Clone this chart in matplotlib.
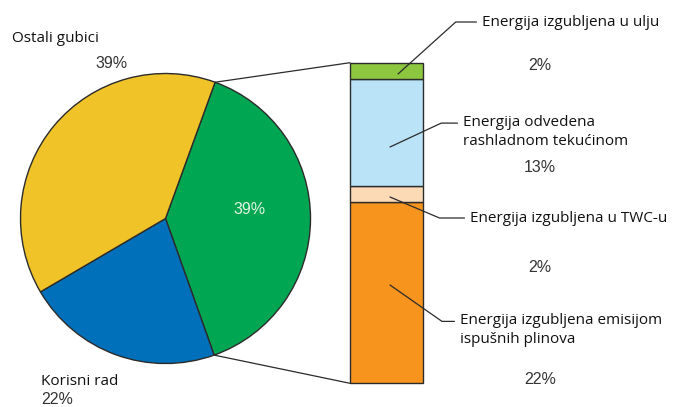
import numpy as np
import matplotlib.pyplot as plt
from matplotlib.patches import ConnectionPatch

# pie: share of fuel energy
pie_labels = ['Gubici hlađenja i ostalo', 'Korisni rad', 'Ostali gubici']
pie_values = [39, 22, 39]
pie_colors = ['#00a651', '#0070ba', '#f0c428']

# stacked bar: breakdown of the green slice (bottom to top)
bar_labels = ['Energija izgubljena emisijom\nispušnih plinova',
              'Energija izgubljena u TWC-u',
              'Energija odvedena\nrashladnom tekućinom',
              'Energija izgubljena u ulju']
bar_values = [22, 2, 13, 2]
bar_pct = ['22%', '2%', '13%', '2%']
bar_colors = ['#f7941d', '#fcdab6', '#bae3f8', '#8dc63f']

W, H = 679, 407
LABEL_FONT = 'Open Sans'
PCT_FONT = 'Liberation Sans'
LFS = 11
PFS = 11.5
EDGE = '#2b2b2b'

fig = plt.figure(figsize=(W / 100, H / 100), dpi=100)


def px(x, y, w, h):
    # axes rect from pixel box (top-left origin)
    return [x / W, (H - y - h) / H, w / W, h / H]


# ---- pie ----
ax_pie = fig.add_axes(px(20.5, 73.5, 290, 290))
start = 70
wedges, _ = ax_pie.pie(pie_values, colors=pie_colors, startangle=start,
                       counterclock=False, radius=1,
                       wedgeprops=dict(edgecolor=EDGE, linewidth=1.0))
ax_pie.set_xlim(-1, 1)
ax_pie.set_ylim(-1, 1)
ax_pie.set_aspect('equal')
ax_pie.axis('off')

# ---- bar ----
ax_bar = fig.add_axes(px(350, 62.7, 73, 320.6))
bottom = 0
for v, c in zip(bar_values, bar_colors):
    ax_bar.bar(0, v, bottom=bottom, width=1, color=c, edgecolor=EDGE,
               linewidth=1.0, clip_on=False)
    bottom += v
total = sum(bar_values)
ax_bar.set_xlim(-0.5, 0.5)
ax_bar.set_ylim(0, total)
ax_bar.axis('off')

# connecting lines pie -> bar
w0 = wedges[0]
for ang, ybar in [(w0.theta2, total), (w0.theta1, 0)]:
    a = np.deg2rad(ang)
    con = ConnectionPatch(xyA=(np.cos(a), np.sin(a)), coordsA=ax_pie.transData,
                          xyB=(-0.5, ybar), coordsB=ax_bar.transData,
                          color=EDGE, linewidth=0.9)
    fig.add_artist(con)

# pie texts
fig.text(12 / W, 1 - 39 / H, 'Ostali gubici', family=LABEL_FONT, fontsize=LFS,
         ha='left', va='center', color='#111111')
fig.text(111.7 / W, 1 - 64 / H, '39%', family=PCT_FONT, fontsize=PFS,
         ha='center', va='center', color='#333333')
fig.text(40.7 / W, 1 - 381.7 / H, 'Korisni rad', family=LABEL_FONT, fontsize=LFS,
         ha='left', va='center', color='#111111')
fig.text(57 / W, 1 - 400 / H, '22%', family=PCT_FONT, fontsize=PFS,
         ha='center', va='center', color='#333333')
fig.text(250 / W, 1 - 209 / H, '39%', family=PCT_FONT, fontsize=PFS,
         ha='center', va='center', color='#e2f4e2')

# bar annotations: (point px, text left px, corner angle, relpos y, pct y)
ann = [
    ((390, 285), (460, 330), -35, 0.75, 380),
    ((390, 197), (470, 218), -23, 0.5, 268),
    ((390, 147), (463, 131.7), 25, 0.75, 167.7),
    ((398, 74), (482, 22), 42, 0.5, 65),
]
for lab, pct, (pt, tp, angb, ry, py) in zip(bar_labels, bar_pct, ann):
    ax_bar.annotate(lab, xy=(pt[0], H - pt[1]), xycoords='figure pixels',
                    xytext=(tp[0], H - tp[1]), textcoords='figure pixels',
                    ha='left', va='center', family=LABEL_FONT, fontsize=LFS,
                    color='#111111', linespacing=1.4,
                    arrowprops=dict(arrowstyle='-', color=EDGE, linewidth=0.9,
                                    relpos=(0, ry), shrinkA=2, shrinkB=0,
                                    connectionstyle=f'angle,angleA=0,angleB={angb},rad=0'))
    fig.text(540 / W, 1 - py / H, pct, family=PCT_FONT, fontsize=PFS,
             ha='center', va='center', color='#333333')

fig.savefig('out.png', dpi=100)
